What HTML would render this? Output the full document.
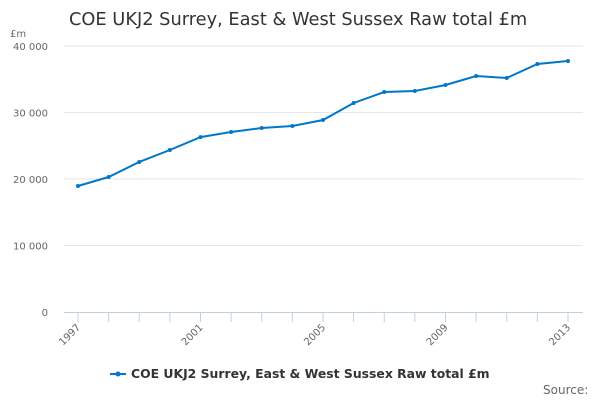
<!DOCTYPE html>
<html><head><meta charset="utf-8">
<style>
body{margin:0;background:#fff;font-family:"DejaVu Sans","Liberation Sans",sans-serif;}
svg{display:block}
</style></head>
<body>
<svg id="chart" width="600" height="400" viewBox="0 0 600 400" xmlns="http://www.w3.org/2000/svg">
<text x="69" y="25" font-size="17.8" fill="#333">COE UKJ2 Surrey, East &amp; West Sussex Raw total £m</text>
<text x="10" y="37" font-size="10" fill="#666">£m</text>
<g id="grid"></g>
<g id="xaxis"></g>
<g id="series"></g>
<g>
<line x1="110" y1="374" x2="126" y2="374" stroke="#0077c8" stroke-width="2"/>
<circle cx="118" cy="374" r="2.5" fill="#0077c8"/>
<text x="131" y="378" font-size="12.4" font-weight="bold" fill="#333">COE UKJ2 Surrey, East &amp; West Sussex Raw total £m</text>
</g>
<text x="543" y="394" font-size="12" fill="#666">Source:</text>
</svg>
<script>
const years=[1997,1998,1999,2000,2001,2002,2003,2004,2005,2006,2007,2008,2009,2010,2011,2012,2013];
const values=[18950,20300,22560,24360,26300,27070,27670,27970,28870,31430,33080,33230,34140,35490,35190,37290,37740];
const yTicks=[0,10000,20000,30000,40000];
const yTickLabels=["0","10 000","20 000","30 000","40 000"];
const xLabels=["1997","2001","2005","2009","2013"];
const NS="http://www.w3.org/2000/svg";
const x0=78,x1=568,yBase=312,yTop=46;
function xs(i){return x0+(x1-x0)*i/(years.length-1);}
function ys(v){return yBase-(yBase-yTop)*v/40000;}
function mk(t,a,p){const e=document.createElementNS(NS,t);for(const k in a)e.setAttribute(k,a[k]);p.appendChild(e);return e;}
const grid=document.getElementById('grid');
yTicks.forEach((v,i)=>{
 if(v>0){const l=mk('line',{x1:64,x2:583,y1:ys(v),y2:ys(v),stroke:'#e6e6e6','stroke-width':1},grid);
 
 }
 const t=mk('text',{x:48,y:ys(v)+4,'font-size':10,fill:'#666','text-anchor':'end'},grid);
 t.textContent=yTickLabels[i];
 
 
});
const xa=document.getElementById('xaxis');
const ax=mk('line',{x1:64,x2:583,y1:yBase+0.5,y2:yBase+0.5,stroke:'#c0d0e0','stroke-width':1},xa);


years.forEach((y,i)=>{
 const tk=mk('line',{x1:xs(i),x2:xs(i),y1:yBase,y2:yBase+10,stroke:'#c0d0e0','stroke-width':1},xa);
 
 
 if(xLabels.includes(String(y))){
  const t=mk('text',{x:xs(i)+3,y:yBase+16,'font-size':10,fill:'#666','text-anchor':'end',transform:`rotate(-45 ${xs(i)+3} ${yBase+16})`},xa);
  t.textContent=String(y);
  
  
 }
});
const s=document.getElementById('series');
const pl=mk('polyline',{points:values.map((v,i)=>xs(i)+','+ys(v)).join(' '),fill:'none',stroke:'#0077c8','stroke-width':2},s);


values.forEach((v,i)=>{
 const c=mk('circle',{cx:xs(i),cy:ys(v),r:2,fill:'#0077c8'},s);
 
 
});
</script>
</body></html>
